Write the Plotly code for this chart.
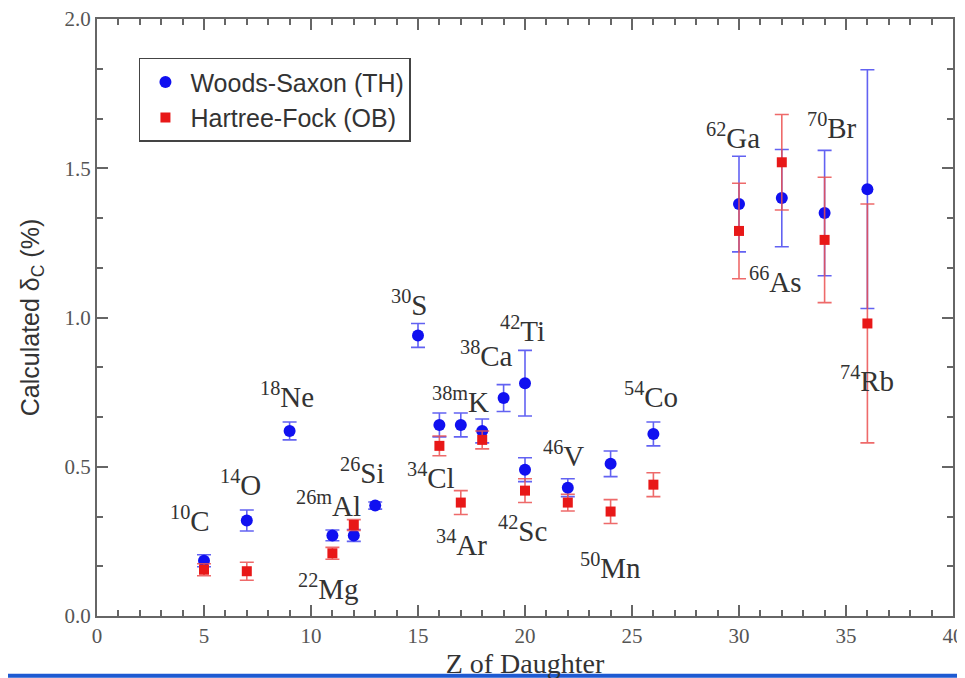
import plotly.graph_objects as go

# Woods-Saxon (TH)
ws_z = [5, 7, 9, 11, 12, 13, 15, 16, 17, 18, 19, 20, 20, 22, 24, 26, 30, 32, 34, 36]
ws_val = [0.185, 0.32, 0.62, 0.27, 0.27, 0.37, 0.94, 0.64, 0.64, 0.62, 0.73, 0.78, 0.49, 0.43, 0.51, 0.61, 1.38, 1.40, 1.35, 1.43]
ws_err = [0.02, 0.035, 0.03, 0.018, 0.02, 0.012, 0.04, 0.04, 0.04, 0.04, 0.045, 0.11, 0.04, 0.03, 0.043, 0.04, 0.16, 0.163, 0.21, 0.40]

# Hartree-Fock (OB)
hf_z = [5, 7, 11, 12, 16, 17, 18, 20, 22, 24, 26, 30, 32, 34, 36]
hf_val = [0.155, 0.15, 0.21, 0.305, 0.57, 0.38, 0.59, 0.42, 0.38, 0.35, 0.44, 1.29, 1.52, 1.26, 0.98]
hf_err = [0.02, 0.03, 0.02, 0.018, 0.033, 0.04, 0.03, 0.04, 0.028, 0.04, 0.04, 0.16, 0.16, 0.21, 0.40]

# Nuclide labels
lab_mass = ["10", "14", "18", "26m", "26", "22", "30", "38", "42", "38m", "34", "34", "42", "46", "50", "54", "62", "66", "70", "74"]
lab_elem = ["C", "O", "Ne", "Al", "Si", "Mg", "S", "Ca", "Ti", "K", "Cl", "Ar", "Sc", "V", "Mn", "Co", "Ga", "As", "Br", "Rb"]
lab_x = [4.35, 6.7, 8.9, 10.8, 12.4, 10.8, 14.6, 18.2, 19.9, 17.0, 15.6, 17.05, 19.9, 21.8, 24.0, 25.9, 29.7, 31.7, 34.35, 36.0]
lab_y = [0.326, 0.446, 0.742, 0.376, 0.486, 0.097, 1.05, 0.878, 0.962, 0.725, 0.469, 0.246, 0.293, 0.542, 0.166, 0.739, 1.607, 1.125, 1.64, 0.795]

BLUE = "#1010f0"
RED = "#e81818"
AXC = "#666666"

fig = go.Figure()
fig.add_trace(go.Scatter(
    x=ws_z, y=ws_val, mode="markers", name="Woods-Saxon (TH)",
    marker=dict(color=BLUE, size=12, symbol="circle"),
    error_y=dict(type="data", array=ws_err, color="rgba(70,70,240,0.85)", thickness=1.6, width=7),
))
fig.add_trace(go.Scatter(
    x=hf_z, y=hf_val, mode="markers", name="Hartree-Fock (OB)",
    marker=dict(color=RED, size=10, symbol="square"),
    error_y=dict(type="data", array=hf_err, color="rgba(235,80,80,0.85)", thickness=1.6, width=7),
))

for m, e, x, y in zip(lab_mass, lab_elem, lab_x, lab_y):
    fig.add_annotation(x=x, y=y, text=f"<sup>{m}</sup>{e}", showarrow=False,
                       font=dict(family="Liberation Serif", size=29, color="#333333"))

axis_common = dict(
    showline=True, linecolor=AXC, linewidth=2, mirror="ticks",
    ticks="inside", tickcolor=AXC, tickwidth=1.5, ticklen=11,
    showgrid=False, zeroline=False, automargin=False,
    ticklabeloverflow="allow",
    tickfont=dict(family="Liberation Serif", size=21, color="#555555"),
)

fig.update_xaxes(
    range=[0, 40], dtick=5, tick0=0,
    minor=dict(dtick=1, ticks="inside", ticklen=6, tickcolor=AXC, tickwidth=1.5, showgrid=False),
    title=dict(text="Z of Daughter", font=dict(family="Liberation Serif", size=28, color="#333333"), standoff=0),
    **axis_common,
)
fig.update_yaxes(
    range=[0, 2.0], dtick=0.5, tick0=0, tickformat=".1f",
    minor=dict(dtick=0.5 / 3, ticks="inside", ticklen=6, tickcolor=AXC, tickwidth=1.5, showgrid=False),
    title=dict(text="Calculated δ<sub>C</sub> (%)", font=dict(family="Liberation Sans", size=25, color="#333333"), standoff=18),
    **axis_common,
)

fig.add_shape(type="line", xref="paper", yref="paper", layer="below",
              x0=-0.12, x1=1.03, y0=-0.1, y1=-0.1,
              line=dict(color="#1e5ad2", width=4))

# the page body adds an 8px offset; margins compensate so the plot area lands where the reference has it
fig.update_layout(
    width=957, height=678,
    margin=dict(l=89, r=12, t=11, b=70),
    paper_bgcolor="white", plot_bgcolor="white",
    showlegend=True,
    legend=dict(x=0.049, y=0.935, xanchor="left", yanchor="top",
                bordercolor="#444444", borderwidth=1.5, bgcolor="white",
                font=dict(family="Liberation Sans", size=25, color="#333333"),
                itemwidth=40, tracegroupgap=0),
)

fig.write_html("out.html", config={"displayModeBar": False})
